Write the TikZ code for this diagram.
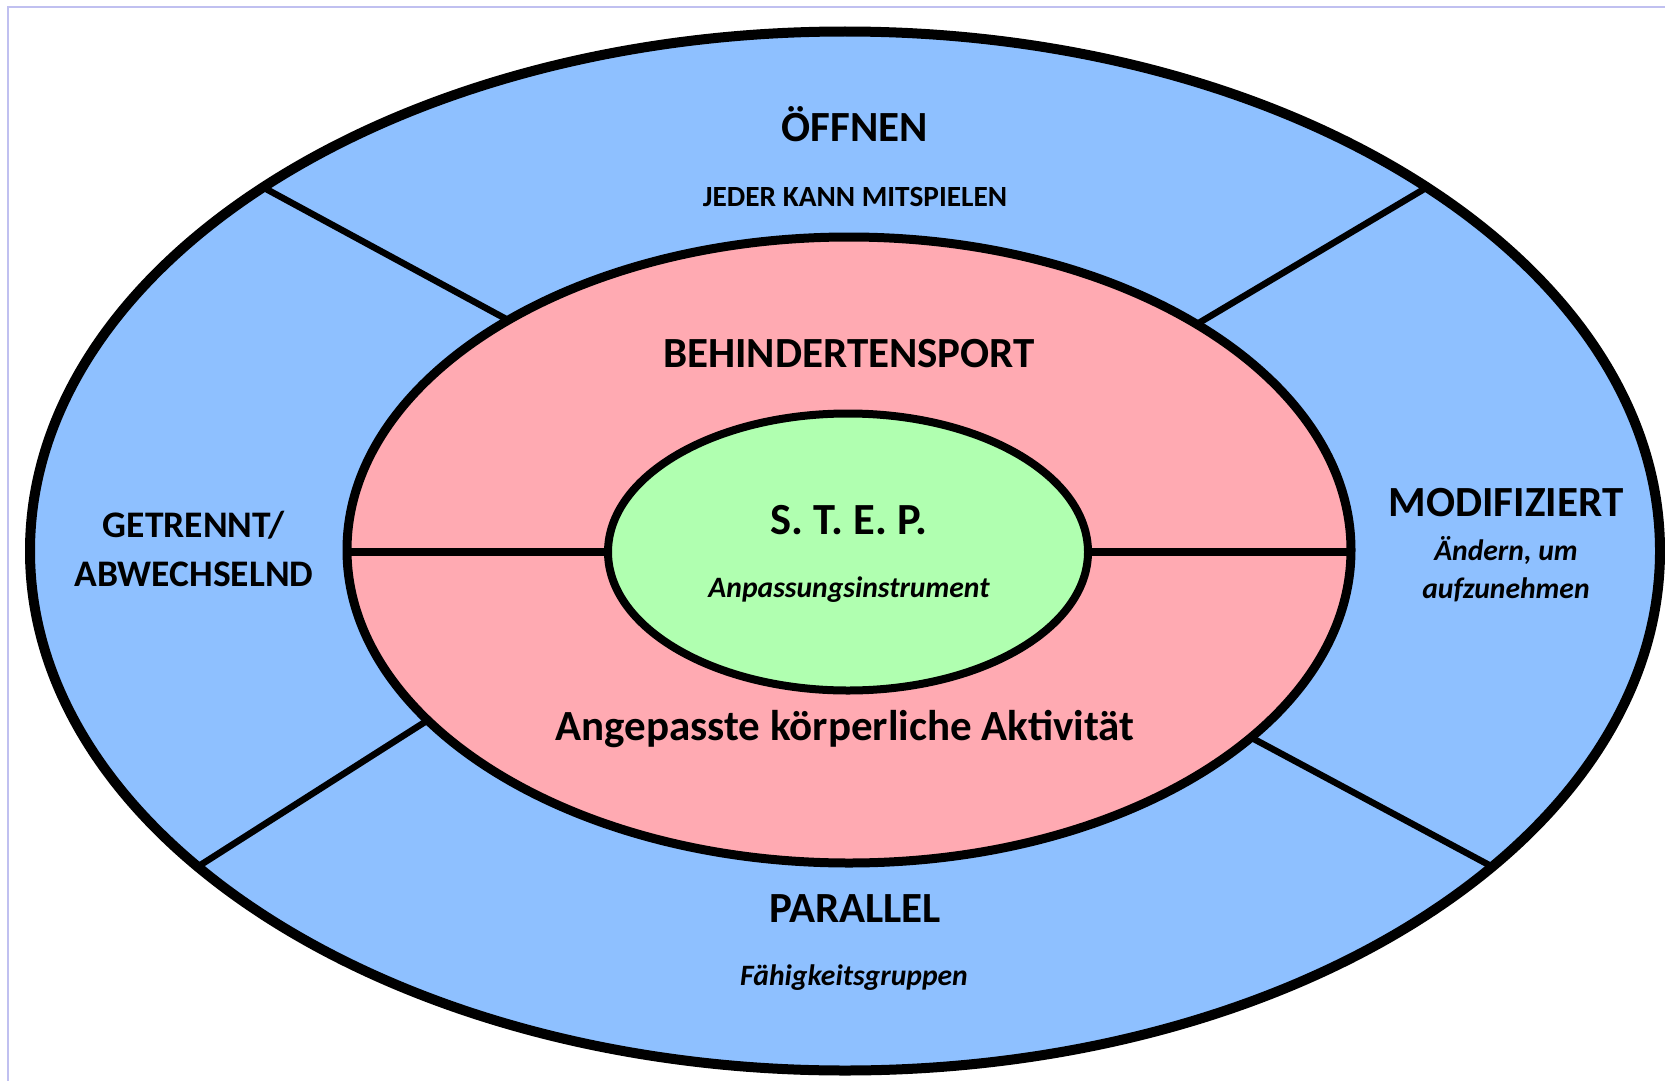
\documentclass[tikz,border=0pt]{standalone}
\usepackage{fontspec}
\setmainfont{Carlito}
\usetikzlibrary{shapes.geometric}
\definecolor{ringblue}{RGB}{142,192,255}
\definecolor{ringpink}{RGB}{255,170,178}
\definecolor{coregreen}{RGB}{176,255,176}
\definecolor{framelav}{RGB}{192,192,240}
\tikzset{
  ring/.style={ellipse, draw=black, inner sep=0pt, outer sep=0pt},
  divider/.style={draw=black, line width=6.5pt},
  splitline/.style={draw=black, line width=8pt},
  big/.style={font=\fontsize{43}{50}\selectfont\bfseries, anchor=base, inner sep=0pt},
  mid/.style={font=\fontsize{37.5}{44}\selectfont\bfseries, anchor=base, inner sep=0pt},
  small/.style={font=\fontsize{29.3}{35}\selectfont\bfseries, anchor=base, inner sep=0pt},
  smallit/.style={font=\fontsize{29.6}{35}\selectfont\bfseries\itshape, anchor=base, inner sep=0pt},
}
\begin{document}
\begin{tikzpicture}[x=1pt, y=-1pt]
\useasboundingbox (0,0) rectangle (1665,1081);
\draw[framelav, line width=1.5pt] (8,1081) -- (8,7) -- (1665,7);
% outer ring
\node[ring, fill=ringblue, line width=10pt, minimum width=1630pt, minimum height=1039pt] (outer) at (845,551) {};
% middle ring (shape only, to get anchors)
\path node[ring, draw=none, minimum width=1004pt, minimum height=626pt] (pinkref) at (849,550) {};
% dividers
\draw[divider] (outer.148.6) -- (pinkref.146.3);
\draw[divider] (outer.32.6) -- (pinkref.33.5);
\draw[divider] (outer.206.0) -- (pinkref.202.6);
\draw[divider] (outer.334.6) -- (pinkref.335.3);
% middle ring
\node[ring, fill=ringpink, line width=9pt, minimum width=1004pt, minimum height=626pt] (pink) at (849,550) {};
% core
\node[ring, fill=coregreen, line width=8pt, minimum width=480pt, minimum height=277pt] (core) at (848,552) {};
% horizontal split
\draw[splitline] (core.west -| pink.west) -- (core.west);
\draw[splitline] (core.east) -- (core.east -| pink.east);
% texts
\node[big] (oeffnen) at (855,141) {ÖFFNEN};
\node[small] (jeder) at (855,206) {JEDER KANN MITSPIELEN};
\node[big] (behind) at (849,367) {BEHINDERTENSPORT};
\node[big, font=\fontsize{44.5}{50}\selectfont\bfseries] (step) at (849,534) {S. T. E. P.};
\node[smallit] (anpass) at (849,597) {Anpassungsinstrument};
\node[big] (angep) at (845,740) {Angepasste körperliche Aktivität};
\node[mid] (getr) at (194,537) {GETRENNT/};
\node[mid] (abw) at (194,586) {ABWECHSELND};
\node[big] (modi) at (1506,516) {MODIFIZIERT};
\node[smallit] (aend) at (1506,560) {Ändern, um};
\node[smallit] (aufz) at (1506,598) {aufzunehmen};
\node[big] (para) at (855,922) {PARALLEL};
\node[smallit] (faeh) at (854,985) {Fähigkeitsgruppen};
\end{tikzpicture}
\end{document}
